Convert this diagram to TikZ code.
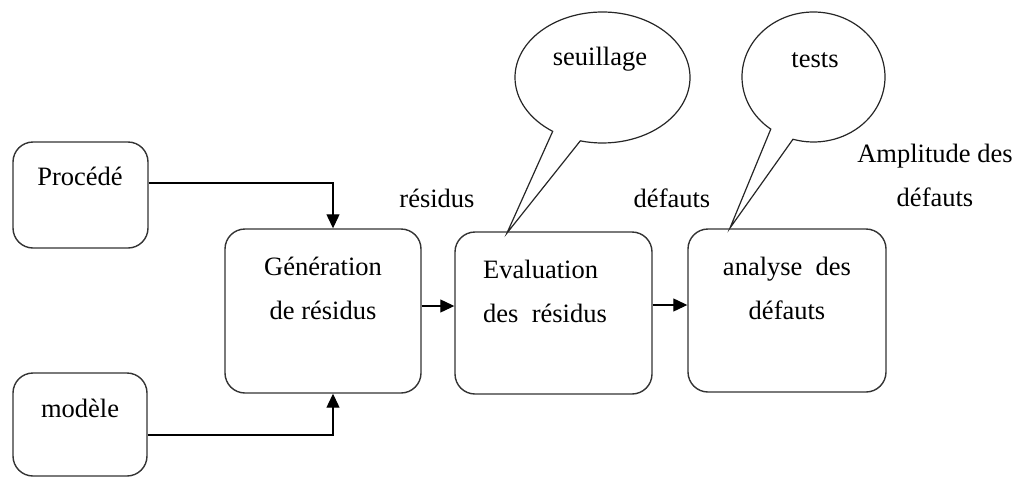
\documentclass[tikz,border=0pt]{standalone}
\usepackage{fontspec}
\setmainfont{Liberation Serif}
\usetikzlibrary{arrows.meta,shapes.callouts}
\tikzset{
	bloc/.style={draw=black!80, line width=1.4pt, rounded corners=20pt, inner sep=0pt},
	bulle/.style={ellipse callout, draw=black!85, line width=1.2pt, inner sep=0pt, callout pointer arc=20},
	txt/.style={inner sep=0pt, font=\fontsize{26.5}{44}\selectfont, align=center},
	mot/.style={txt, text height=17pt, text depth=6pt},
	fleche/.style={line width=1.2pt, -{Triangle[length=14pt,width=13pt]}}
}

\begin{document}
\begin{tikzpicture}[x=1pt,y=-1pt]
			%%%%% START %%%%%
			\useasboundingbox (0,0) rectangle (1018,477);
			
			\node[bloc, minimum width=135pt, minimum height=106pt] (proc) at (80.5,195) {};
			\node[mot] (proctxt) at (80,179.5) {Procédé};
			
			\node[bloc, minimum width=134pt, minimum height=103pt] (mod) at (80,424.5) {};
			\node[mot] (modtxt) at (80,411.5) {modèle};
			
			\node[bloc, minimum width=196pt, minimum height=164pt] (gen) at (323,311) {};
			\node[txt] (gentxt) at (323,288) {Génération\\de résidus};
			
			\node[bloc, minimum width=197pt, minimum height=162pt] (eval) at (553.5,313) {};
			\node[txt, align=left, anchor=west] (evaltxt) at (483,291) {Evaluation\\des~ résidus};
			
			\node[bloc, minimum width=198pt, minimum height=163pt] (ana) at (787,310.5) {};
			\node[txt] (anatxt) at (787,288.4) {analyse~ des\\défauts};
			
			\coordinate (tipseuil) at (507,233);
			\coordinate (tiptest) at (730,228);
			\node[bulle, minimum width=175pt, minimum height=131pt, callout absolute pointer={(tipseuil)}] (seuil) at (602.5,77.5) {};
			\node[mot] (seuiltxt) at (600,59.5) {seuillage};
			\node[bulle, minimum width=143pt, minimum height=130pt, callout absolute pointer={(tiptest)}] (test) at (813.5,77) {};
			\node[mot] (testtxt) at (815,61.5) {tests};
			
			\node[mot] (resid) at (437,201.5) {résidus};
			\node[mot] (defaut) at (672,201.5) {défauts};
			\node[txt] (ampl) at (935,175.5) {Amplitude des\\défauts};
			
			\draw[fleche] ([yshift=12pt]proc.east) -| ([xshift=10pt]gen.north);
			\draw[fleche] ([yshift=-10.5pt]mod.east) -| ([xshift=10pt]gen.south);
			\draw[fleche] ([yshift=5pt]gen.east) -- ([yshift=5pt]gen.east -| eval.west);
			\draw[fleche] ([yshift=8pt]eval.east) -- ([yshift=8pt]eval.east -| ana.west);
			
			%%%%% END %%%%%
\end{tikzpicture}
\end{document}
